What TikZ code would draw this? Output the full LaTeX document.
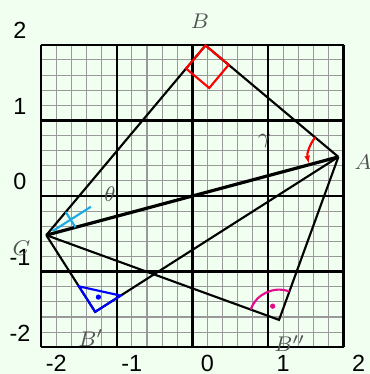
\documentclass[tikz,border=0pt]{standalone}
\usepackage{fontspec}
\newfontfamily\axisfont{Liberation Sans}
\usetikzlibrary{arrows.meta,calc}
\definecolor{bgmint}{RGB}{240,255,240}
\definecolor{markpink}{RGB}{230,10,140}
\definecolor{markcyan}{RGB}{25,170,230}

\begin{document}
\begin{tikzpicture}[
  every node/.style={font=\fontsize{8.4}{10}\selectfont},
  axlabel/.style={font=\axisfont\fontsize{8.8}{10}\selectfont},
  ptlabel/.style={text=black!68},
  side/.style={line width=0.8pt},
  hypot/.style={line width=1.2pt},
  anglemark/.style={line width=0.8pt},
  dotmark/.style={radius=0.035},
]

%% ── Canvas ────────────────────────────────────────────────────────────────
\fill[bgmint] (-2.544,-2.354) rectangle (2.350,2.593);
\useasboundingbox (-2.544,-2.354) rectangle (2.350,2.593);

%% ── Grid ──────────────────────────────────────────────────────────────────
\draw[step=0.2, black!40, line width=0.4pt] (-2,-2) grid (2,2);
\draw[step=1, black, line width=0.9pt] (-2,-2) grid (2,2);

\foreach \k in {-2,...,2} {
  \node[axlabel] (xl\k) at (\k+0.2,-2.21) {\k};
  \node[axlabel] (yl\k) at (-2.28,\k+0.19) {\k};
}

%% ── Points on the circle ──────────────────────────────────────────────────
\coordinate (A)  at (15:2);
\coordinate (B)  at (85:2);
\coordinate (C)  at (195:2);
\coordinate (B1) at (230:2);   % B'
\coordinate (B2) at (-55:2);   % B''

%% ── Triangles ─────────────────────────────────────────────────────────────
\draw[side] (A) -- (B) -- (C);
\draw[side] (C) -- (B1) -- (A);
\draw[side] (C) -- (B2) -- (A);
\draw[hypot] (C) -- (A);

%% ── Angle marks ───────────────────────────────────────────────────────────
% right angle at B
\coordinate (ba) at ($(B)!0.4cm!(A)$);
\coordinate (bc) at ($(B)!0.4cm!(C)$);
\draw[anglemark, red] (B) -- (ba) -- ($(ba)+(bc)-(B)$) -- (bc) -- cycle;

% right angle at B'
\draw[anglemark, blue] (B1) -- ($(B1)!0.4cm!(C)$) -- ($(B1)!0.4cm!(A)$) -- cycle;
\fill[blue] ($(B1)+(77.5:0.2)$) circle[dotmark];

% right angle at B''
\draw[anglemark, markpink] ($(B2)+(70:0.4)$) arc[start angle=70, end angle=160, radius=0.4];
\fill[markpink] ($(B2)+(115:0.2)$) circle[dotmark];

% theta at C
\draw[anglemark, markcyan] ($(C)+(50:0.4)$) -- ($(C)+(15:0.4)$);
\draw[anglemark, markcyan] ($(C)+(32.5:0.1)$) -- ($(C)+(32.5:0.7)$);

% gamma at A
\draw[anglemark, red, -{Latex[length=3pt]}]
  ($(A)+(140:0.4)$) arc[start angle=140, end angle=193, radius=0.4];

%% ── Labels ────────────────────────────────────────────────────────────────
\node[ptlabel] (lA)  at (2.26,0.45)   {$A$};
\node[ptlabel] (lB)  at (0.10,2.31)   {$B$};
\node[ptlabel] (lC)  at (-2.26,-0.69) {$C$};
\node[ptlabel] (lB1) at (-1.34,-1.88) {$B'$};
\node[ptlabel] (lB2) at (1.29,-1.95)  {$B''$};
\node[ptlabel] (lgam) at ($(A)+(167.5:1)$) {$\gamma$};
\node[ptlabel] (lthe) at ($(C)+(32.5:1)$)  {$\theta$};

\end{tikzpicture}
\end{document}
